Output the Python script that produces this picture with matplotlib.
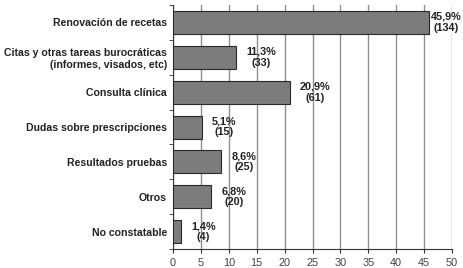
import numpy as np
import matplotlib.pyplot as plt

plt.rcParams['font.family'] = ['Liberation Sans', 'DejaVu Sans']

categories = ['Renovación de recetas',
              'Citas y otras tareas burocráticas\n(informes, visados, etc)',
              'Consulta clínica',
              'Dudas sobre prescripciones',
              'Resultados pruebas',
              'Otros',
              'No constatable']
percents = [45.9, 11.3, 20.9, 5.1, 8.6, 6.8, 1.4]
counts = [134, 33, 61, 15, 25, 20, 4]
pct_labels = ['45,9%', '11,3%', '20,9%', '5,1%', '8,6%', '6,8%', '1,4%']

fig, ax = plt.subplots(figsize=(4.64, 2.68), dpi=100)
fig.subplots_adjust(left=0.373, right=0.974, top=0.982, bottom=0.07)

y = np.arange(len(categories))
ax.barh(y, percents, height=0.66, color='#7c7c7c', edgecolor='#2a2a2a',
        linewidth=0.8, zorder=3)

for yi, v, p, c in zip(y, percents, pct_labels, counts):
    # the longest bar has little room left, so its label sits close to it
    off = 1.5 if v > 40 else 7.5
    ax.annotate(f'{p}\n({c})', (v, yi), xytext=(off, 0), textcoords='offset points',
                ha='left', va='center', multialignment='center',
                fontsize=7.8, fontweight='bold', color='#222222', linespacing=1.1)

ax.set_xlim(0, 50)
ax.set_ylim(len(categories) - 0.5, -0.5)
ax.set_xticks(np.arange(0, 51, 5))
ax.set_yticks(y)
ax.set_yticklabels(categories, fontsize=7.6, fontweight='bold', color='#222222')
ax.set_yticks(np.arange(-0.5, len(categories), 1), minor=True)
ax.tick_params(axis='y', which='major', length=0, pad=4.5)
ax.tick_params(axis='y', which='minor', length=3, color='#333333')
ax.tick_params(axis='x', labelsize=7.8, length=3, color='#333333', labelcolor='#444444')

ax.grid(axis='x', color='#8f8f8f', linewidth=1.0, zorder=0)
ax.set_axisbelow(True)
for s in ['top', 'right']:
    ax.spines[s].set_visible(False)
ax.spines['left'].set_color('#333333')
ax.spines['bottom'].set_color('#333333')
ax.spines['left'].set_linewidth(0.8)
ax.spines['bottom'].set_linewidth(0.8)

fig.savefig('out.png', dpi=100)
